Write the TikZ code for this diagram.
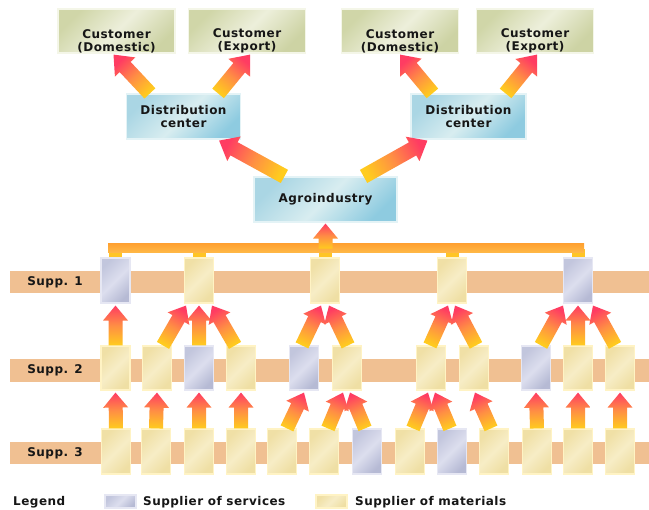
\documentclass[tikz,border=0pt]{standalone}
\usepackage{fontspec}
\setmainfont[LetterSpace=4]{DejaVu Sans}
\usetikzlibrary{calc}

% palette
\definecolor{txtc}{HTML}{161616}
\definecolor{bandc}{HTML}{F0C092}
\definecolor{matL}{HTML}{F0E0A6}
\definecolor{matM}{HTML}{F7EDC6}
\definecolor{matR}{HTML}{EFDFA4}
\definecolor{matB}{HTML}{FFF3C4}
\definecolor{srvL}{HTML}{C2C6DD}
\definecolor{srvM}{HTML}{DCDEEE}
\definecolor{srvR}{HTML}{B6BAD4}
\definecolor{srvB}{HTML}{E6E7F3}
\definecolor{custL}{HTML}{D0D6A8}
\definecolor{custM}{HTML}{EDEFDB}
\definecolor{custR}{HTML}{CDD3A4}
\definecolor{custB}{HTML}{F4F6E8}
\definecolor{distL}{HTML}{AAD6E4}
\definecolor{distM}{HTML}{D8EDF0}
\definecolor{distR}{HTML}{8ECBE0}
\definecolor{distB}{HTML}{E4F3F6}
\definecolor{arY}{HTML}{FFCC1E}
\definecolor{arO}{HTML}{FF8E44}
\definecolor{arR}{HTML}{FF3C62}
\definecolor{barT}{HTML}{FFA232}
\definecolor{barB}{HTML}{FFBA48}
\definecolor{stubc}{HTML}{FFC526}

% broad gradient arrow from #1 to #2: half shaft width #3, half head width #4, head length #5
\newcommand\fatarrow[5]{%
  \path #1 coordinate (faS) #2 coordinate (faE);
  \path ($(faE)!#5!(faS)$) coordinate (faH);
  \pgfpointdiff{\pgfpointanchor{faS}{center}}{\pgfpointanchor{faE}{center}}%
  \pgfgetlastxy{\fadx}{\fady}%
  \pgfmathsetmacro\faang{atan2(\fady,\fadx)-90}%
  \shade[arrowfill, shading angle=\faang]
    ($(faS)!#3!90:(faE)$) -- ($(faH)!#3!90:(faE)$) -- ($(faH)!#4!90:(faE)$)
    -- (faE)
    -- ($(faH)!#4!-90:(faE)$) -- ($(faH)!#3!-90:(faE)$) -- ($(faS)!#3!-90:(faE)$) -- cycle;
}
\newcommand\smallarrow[2]{\fatarrow{#1}{#2}{7pt}{12.5pt}{15pt}}
\newcommand\bigarrow[2]{\fatarrow{#1}{#2}{7.5pt}{14pt}{17pt}}

\begin{document}
\begin{tikzpicture}[x=1pt,y=-1pt,
  txt/.style={font=\fontsize{12}{13}\selectfont\bfseries, text=txtc, align=center, inner sep=0pt},
  supbox/.style={minimum width=29pt, minimum height=45pt, inner sep=0pt, line width=1.2pt},
  mat/.style={supbox, draw=matB, left color=matL, right color=matR, middle color=matM, shading angle=45},
  srv/.style={supbox, draw=srvB, left color=srvL, right color=srvR, middle color=srvM, shading angle=45},
  cust/.style={minimum width=117pt, minimum height=44pt, inner sep=0pt, line width=1.2pt,
    draw=custB, left color=custL, right color=custR, middle color=custM, shading angle=45},
  dist/.style={minimum width=115pt, minimum height=45pt, inner sep=0pt, line width=1.2pt,
    draw=distB, left color=distL, right color=distR, middle color=distM, shading angle=45, txt},
  arrowfill/.style={bottom color=arY, top color=arR, middle color=arO},
  band/.style={fill=bandc}
]
\useasboundingbox[fill=white] (0,0) rectangle (649,510);

% supplier tiers
\fill[band] (10,271) rectangle (649,293);
\fill[band] (10,359) rectangle (649,382);
\fill[band] (10,442) rectangle (649,464);
\node[txt] (sp1) at (55,282) {Supp. 1};
\node[txt] (sp2) at (55,370.5) {Supp. 2};
\node[txt] (sp3) at (55,453) {Supp. 3};

% customers
\node[cust, label={[txt,yshift=-10pt]center:{Customer\\(Domestic)}}] (c1) at (116.5,31) {};
\node[cust, label={[txt,yshift=-10pt]center:{Customer\\(Export)}}]   (c2) at (247,31) {};
\node[cust, label={[txt,yshift=-10pt]center:{Customer\\(Domestic)}}] (c3) at (400,31) {};
\node[cust, label={[txt,yshift=-10pt]center:{Customer\\(Export)}}]   (c4) at (535,31) {};

% distribution centres and agroindustry
\node[dist, minimum width=114pt] (d1) at (183.5,116.5) {Distribution\\center};
\node[dist] (d2) at (468.5,116.5) {Distribution\\center};
\node[dist, minimum width=143pt] (agro) at (325.5,199.5) {Agroindustry};

% tier 1
\node[srv] (s1a) at (115.5,280.5) {};
\node[mat] (s1b) at (199,280.5) {};
\node[mat] (s1c) at (325,280.5) {};
\node[mat] (s1d) at (452,280.5) {};
\node[srv] (s1e) at (578,280.5) {};

% tier 2
\begin{scope}[supbox/.append style={minimum height=44pt}]
\node[mat] (s2a) at (115.5,368) {};
\node[mat] (s2b) at (157,368) {};
\node[srv] (s2c) at (199,368) {};
\node[mat] (s2d) at (241,368) {};
\node[srv] (s2e) at (304,368) {};
\node[mat] (s2f) at (347,368) {};
\node[mat] (s2g) at (431,368) {};
\node[mat] (s2h) at (474,368) {};
\node[srv] (s2i) at (536,368) {};
\node[mat] (s2j) at (578,368) {};
\node[mat] (s2k) at (620,368) {};
\end{scope}

% tier 3
\node[mat] (s3a) at (116,451.5) {};
\node[mat] (s3b) at (156,451.5) {};
\node[mat] (s3c) at (199,451.5) {};
\node[mat] (s3d) at (241,451.5) {};
\node[mat] (s3e) at (282,451.5) {};
\node[mat] (s3f) at (324,451.5) {};
\node[srv] (s3g) at (367,451.5) {};
\node[mat] (s3h) at (410,451.5) {};
\node[srv] (s3i) at (452,451.5) {};
\node[mat] (s3j) at (494,451.5) {};
\node[mat] (s3k) at (537,451.5) {};
\node[mat] (s3l) at (578,451.5) {};
\node[mat] (s3m) at (620,451.5) {};

% tier 3 -> tier 2
\smallarrow{(s3a.north)}{($(s2a.south)+(0,2)$)}
\smallarrow{(s3b.north)}{($(s2b.south)+(0,2)$)}
\smallarrow{(s3c.north)}{($(s2c.south)+(0,2)$)}
\smallarrow{(s3d.north)}{($(s2d.south)+(0,2)$)}
\smallarrow{($(s3e.north)+(5,0)$)}{($(s2e.south)+(0,2)$)}
\smallarrow{($(s3f.north)+(4,0)$)}{($(s2f.south)+(-4,2)$)}
\smallarrow{($(s3g.north)+(-2,0)$)}{($(s2f.south)+(3,2)$)}
\smallarrow{($(s3h.north)+(3,0)$)}{($(s2g.south)+(-3,2)$)}
\smallarrow{($(s3i.north)+(-2,0)$)}{($(s2g.south)+(4,2)$)}
\smallarrow{($(s3j.north)+(-3,0)$)}{($(s2h.south)+(1,2)$)}
\smallarrow{(s3k.north)}{($(s2i.south)+(0,2)$)}
\smallarrow{(s3l.north)}{($(s2j.south)+(0,2)$)}
\smallarrow{(s3m.north)}{($(s2k.south)+(0,2)$)}

% tier 2 -> tier 1
\smallarrow{(s2a.north)}{($(s1a.south)+(0,2)$)}
\smallarrow{($(s2b.north)+(6,0)$)}{($(s1b.south)+(-13,2)$)}
\smallarrow{(s2c.north)}{($(s1b.south)+(0,2)$)}
\smallarrow{($(s2d.north)+(-6,0)$)}{($(s1b.south)+(13,2)$)}
\smallarrow{($(s2e.north)+(-2,0)$)}{($(s1c.south)+(-4,2)$)}
\smallarrow{($(s2f.north)+(1,0)$)}{($(s1c.south)+(4,2)$)}
\smallarrow{($(s2g.north)+(-1,0)$)}{($(s1d.south)+(-4,2)$)}
\smallarrow{($(s2h.north)+(2,0)$)}{($(s1d.south)+(3,2)$)}
\smallarrow{($(s2i.north)+(5,0)$)}{($(s1e.south)+(-15,2)$)}
\smallarrow{(s2j.north)}{($(s1e.south)+(0,2)$)}
\smallarrow{($(s2k.north)+(-5,0)$)}{($(s1e.south)+(15,2)$)}

% collecting bar from tier 1 to the agroindustry
\foreach \s in {s1a,s1b,s1c,s1d,s1e}
  \fill[stubc] ($(\s.north)+(-6.5,-8)$) rectangle ($(\s.north)+(6.5,0)$);
\shade[top color=barT, bottom color=barB] (108,244) rectangle (584,253);
\smallarrow{($(agro.south)+(0,26)$)}{($(agro.south)+(0,1)$)}

% agroindustry -> distribution -> customers
\bigarrow{($(agro.north west)+(31,0)$)}{($(d1.south east)+(-22,1)$)}
\bigarrow{($(agro.north east)+(-34,0)$)}{($(d2.south west)+(17,1)$)}
\bigarrow{($(d1.north west)+(24,0)$)}{($(c1.south)+(-3,1)$)}
\bigarrow{($(d1.north east)+(-23,0)$)}{($(c2.south)+(3,1)$)}
\bigarrow{($(d2.north west)+(22,0)$)}{($(c3.south)+(0,1)$)}
\bigarrow{($(d2.north east)+(-21,0)$)}{($(c4.south)+(2,1)$)}

% legend
\node[txt, anchor=west] (leg) at (13,502) {Legend};
\node[srv, minimum width=31pt, minimum height=13pt] (lsrv) at (120.5,501.5) {};
\node[txt, anchor=west] (lsrvt) at (143,502) {Supplier of services};
\node[mat, minimum width=31pt, minimum height=13pt] (lmat) at (331.5,501.5) {};
\node[txt, anchor=west] (lmatt) at (355,502) {Supplier of materials};
\end{tikzpicture}
\end{document}
